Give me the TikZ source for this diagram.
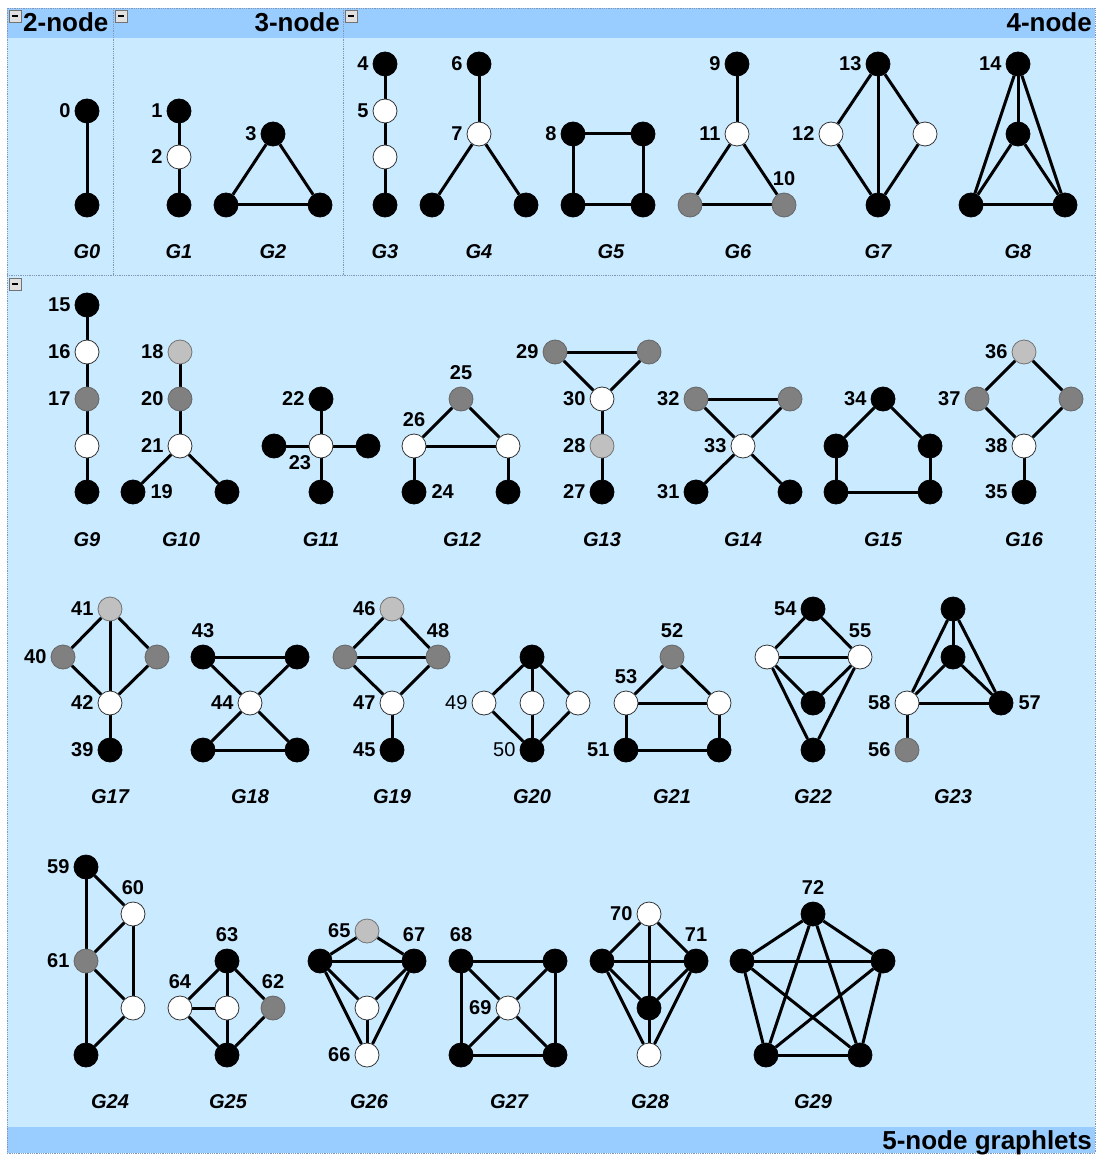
\documentclass[tikz,border=0pt]{standalone}
\usepackage{fontspec}
\setmainfont{Liberation Sans}
\newcommand\lblfont{\fontsize{20}{20}\selectfont\bfseries}
\newcommand\lblreg{\fontsize{20}{20}\selectfont\mdseries}
\newcommand\gfont{\fontsize{20}{20}\selectfont\bfseries\itshape}
\newcommand\hdrfont{\fontsize{26}{26}\selectfont\bfseries}
\definecolor{bodyblue}{RGB}{202,234,255}
\definecolor{headblue}{RGB}{153,204,255}
\definecolor{dotc}{RGB}{130,150,185}
\definecolor{gy}{RGB}{128,128,128}
\definecolor{lg}{RGB}{192,192,192}
\pgfdeclarelayer{background}
\pgfdeclarelayer{edgelayer}
\pgfsetlayers{background,edgelayer,main}
\tikzset{
  vtx/.style={circle, minimum size=24pt, inner sep=0pt, line width=0.8pt},
  bk/.style={vtx, fill=black, draw=black},
  wh/.style={vtx, fill=white, draw=black!80},
  gn/.style={vtx, fill=gy, draw=black!60},
  ln/.style={vtx, fill=lg, draw=black!55},
  lbl/.style={font=\lblfont, inner sep=1pt, text=black},
  every label/.style={lbl},
  lf/.style={label={[label distance=3pt]left:#1}},
  lfr/.style={label={[label distance=3pt,font=\lblreg]left:#1}},
  rt/.style={label={[label distance=4pt]right:#1}},
  ab/.style={label={[label distance=6pt]above:#1}},
  gl/.style={font=\gfont, inner sep=0pt},
  hdr/.style={font=\hdrfont, inner sep=0pt},
  edg/.style={line width=3pt, black},
  dotl/.style={dotc, densely dotted, line width=0.8pt},
  minus/.style={draw=black!55, fill=black!12, line width=0.6pt},
}
\begin{document}
\begin{tikzpicture}[x=1pt,y=-1pt]
\useasboundingbox (0,0) rectangle (1096,1155);
\begin{pgfonlayer}{background}
  \fill[white] (0,0) rectangle (1096,1155);
  \fill[bodyblue] (7,8) rectangle (1095,1153);
  \fill[headblue] (7,8) rectangle (1095,38);
  \fill[headblue] (7,1127) rectangle (1095,1153);
  \draw[dotl] (7,8) rectangle (1095,1153);
  \draw[dotl] (113,8) -- (113,275.5);
  \draw[dotl] (343,8) -- (343,275.5);
  \draw[dotl] (7,275.5) -- (1095,275.5);
  \foreach \mx/\my in {9/10, 115/10, 345/10, 9/278}{
    \draw[minus] (\mx,\my) rectangle ++(12,12);
    \fill[black] (\mx+3,\my+5) rectangle ++(6,2);
  }
\end{pgfonlayer}

% headers
\node[hdr, anchor=base west] (h2) at (23,32) {2-node};
\node[hdr, anchor=base east] (h3) at (340,32) {3-node};
\node[hdr, anchor=base east] (h4) at (1092,32) {4-node};
\node[hdr, anchor=base east] (h5) at (1092,1149) {5-node graphlets};

% ---- row 1 ----
\node[bk,lf=0] (n0) at (87,111) {};
\node[bk] (g0b) at (87,205) {};

\node[bk,lf=1] (n1) at (179,111) {};
\node[wh,lf=2] (n2) at (179,157) {};
\node[bk] (g1c) at (179,205) {};

\node[bk,lf=3] (n3) at (273,134) {};
\node[bk] (g2b) at (226,205) {};
\node[bk] (g2c) at (320,205) {};

\node[bk,lf=4] (n4) at (385,64) {};
\node[wh,lf=5] (n5) at (385,111) {};
\node[wh] (g3c) at (385,157) {};
\node[bk] (g3d) at (385,205) {};

\node[bk,lf=6] (n6) at (479,64) {};
\node[wh,lf=7] (n7) at (479,134) {};
\node[bk] (g4c) at (432,205) {};
\node[bk] (g4d) at (526,205) {};

\node[bk,lf=8] (n8) at (573,134) {};
\node[bk] (g5b) at (643,134) {};
\node[bk] (g5c) at (573,205) {};
\node[bk] (g5d) at (643,205) {};

\node[bk,lf=9] (n9) at (737,64) {};
\node[wh,lf=11] (n11) at (737,134) {};
\node[gn] (g6c) at (690,205) {};
\node[gn,ab=10] (n10) at (784,205) {};

\node[bk,lf=13] (n13) at (878,64) {};
\node[wh,lf=12] (n12) at (831,134) {};
\node[wh] (g7c) at (925,134) {};
\node[bk] (g7d) at (878,205) {};

\node[bk,lf=14] (n14) at (1018,64) {};
\node[bk] (g8b) at (1018,134) {};
\node[bk] (g8c) at (971,205) {};
\node[bk] (g8d) at (1065,205) {};

% ---- row 2 ----
\node[bk,lf=15] (n15) at (87,305) {};
\node[wh,lf=16] (n16) at (87,352) {};
\node[gn,lf=17] (n17) at (87,399) {};
\node[wh] (g9d) at (87,446) {};
\node[bk] (g9e) at (87,492) {};

\node[ln,lf=18] (n18) at (180,352) {};
\node[gn,lf=20] (n20) at (180,399) {};
\node[wh,lf=21] (n21) at (180,446) {};
\node[bk,rt=19] (n19) at (133,492) {};
\node[bk] (g10e) at (227,492) {};

\node[bk,lf=22] (n22) at (321,399) {};
\node[wh,label={[label distance=0pt]below left:23}] (n23) at (321,446) {};
\node[bk] (g11c) at (274,446) {};
\node[bk] (g11d) at (368,446) {};
\node[bk] (g11e) at (321,492) {};

\node[gn,ab=25] (n25) at (461,399) {};
\node[wh,ab=26] (n26) at (414,446) {};
\node[wh] (g12c) at (508,446) {};
\node[bk,rt=24] (n24) at (414,492) {};
\node[bk] (g12e) at (508,492) {};

\node[gn,lf=29] (n29) at (555,352) {};
\node[gn] (g13b) at (649,352) {};
\node[wh,lf=30] (n30) at (602,399) {};
\node[ln,lf=28] (n28) at (602,446) {};
\node[bk,lf=27] (n27) at (602,492) {};

\node[gn,lf=32] (n32) at (696,399) {};
\node[gn] (g14b) at (790,399) {};
\node[wh,lf=33] (n33) at (743,446) {};
\node[bk,lf=31] (n31) at (696,492) {};
\node[bk] (g14e) at (790,492) {};

\node[bk,lf=34] (n34) at (883,399) {};
\node[bk] (g15b) at (836,446) {};
\node[bk] (g15c) at (930,446) {};
\node[bk] (g15d) at (836,492) {};
\node[bk] (g15e) at (930,492) {};

\node[ln,lf=36] (n36) at (1024,352) {};
\node[gn,lf=37] (n37) at (977,399) {};
\node[gn] (g16c) at (1071,399) {};
\node[wh,lf=38] (n38) at (1024,446) {};
\node[bk,lf=35] (n35) at (1024,492) {};

% ---- row 3 ----
\node[ln,lf=41] (n41) at (110,609) {};
\node[gn,lf=40] (n40) at (63,657) {};
\node[gn] (g17c) at (157,657) {};
\node[wh,lf=42] (n42) at (110,703) {};
\node[bk,lf=39] (n39) at (110,750) {};

\node[bk,ab=43] (n43) at (203,657) {};
\node[bk] (g18b) at (297,657) {};
\node[wh,lf=44] (n44) at (250,703) {};
\node[bk] (g18d) at (203,750) {};
\node[bk] (g18e) at (297,750) {};

\node[ln,lf=46] (n46) at (392,609) {};
\node[gn] (g19b) at (345,657) {};
\node[gn,ab=48] (n48) at (438,657) {};
\node[wh,lf=47] (n47) at (392,703) {};
\node[bk,lf=45] (n45) at (392,750) {};

\node[bk] (g20a) at (532,657) {};
\node[wh,lfr=49] (n49) at (484,703) {};
\node[wh] (g20c) at (532,703) {};
\node[wh] (g20d) at (578,703) {};
\node[bk,lfr=50] (n50) at (532,750) {};

\node[gn,ab=52] (n52) at (672,657) {};
\node[wh,ab=53] (n53) at (626,703) {};
\node[wh] (g21c) at (719,703) {};
\node[bk,lf=51] (n51) at (626,750) {};
\node[bk] (g21e) at (719,750) {};

\node[bk,lf=54] (n54) at (813,609) {};
\node[wh] (g22b) at (767,657) {};
\node[wh,ab=55] (n55) at (860,657) {};
\node[bk] (g22d) at (813,703) {};
\node[bk] (g22e) at (813,750) {};

\node[bk] (g23a) at (953,609) {};
\node[bk] (g23b) at (953,657) {};
\node[wh,lf=58] (n58) at (907,703) {};
\node[bk,rt=57] (n57) at (1001,703) {};
\node[gn,lf=56] (n56) at (907,750) {};

% ---- row 4 ----
\node[bk,lf=59] (n59) at (86,867) {};
\node[wh,ab=60] (n60) at (133,914) {};
\node[gn,lf=61] (n61) at (86,961) {};
\node[wh] (g24d) at (133,1008) {};
\node[bk] (g24e) at (86,1055) {};

\node[bk,ab=63] (n63) at (227,961) {};
\node[wh,ab=64] (n64) at (180,1008) {};
\node[wh] (g25c) at (227,1008) {};
\node[gn,ab=62] (n62) at (273,1008) {};
\node[bk] (g25e) at (227,1055) {};

\node[ln,lf=65] (n65) at (367,931) {};
\node[bk] (g26b) at (320,961) {};
\node[bk,ab=67] (n67) at (414,961) {};
\node[wh] (g26d) at (367,1008) {};
\node[wh,lf=66] (n66) at (367,1055) {};

\node[bk,ab=68] (n68) at (461,961) {};
\node[bk] (g27b) at (555,961) {};
\node[wh,lf=69] (n69) at (508,1008) {};
\node[bk] (g27d) at (461,1055) {};
\node[bk] (g27e) at (555,1055) {};

\node[wh,lf=70] (n70) at (649,914) {};
\node[bk] (g28b) at (602,961) {};
\node[bk,ab=71] (n71) at (696,961) {};
\node[bk] (g28d) at (649,1008) {};
\node[wh] (g28e) at (649,1055) {};

\node[bk,ab=72] (n72) at (813,914) {};
\node[bk] (g29b) at (742,961) {};
\node[bk] (g29c) at (883,961) {};
\node[bk] (g29d) at (766,1055) {};
\node[bk] (g29e) at (860,1055) {};

% graph names
\foreach \gx/\gy/\gt in {87/252/0, 179/252/1, 273/252/2, 385/252/3, 479/252/4, 611/252/5, 738/252/6, 878/252/7, 1018/252/8,
  87/540/9, 181/540/10, 321/540/11, 462/540/12, 602/540/13, 743/540/14, 883/540/15, 1024/540/16,
  110/797/17, 250/797/18, 392/797/19, 532/797/20, 672/797/21, 813/797/22, 953/797/23,
  110/1102/24, 228/1102/25, 369/1102/26, 509/1102/27, 650/1102/28, 813/1102/29}{
  \node[gl] (G\gt) at (\gx,\gy) {G\gt};
}

% edges
\begin{pgfonlayer}{edgelayer}
\foreach \a/\b in {
  n0/g0b, n1/n2, n2/g1c, n3/g2b, n3/g2c, g2b/g2c,
  n4/n5, n5/g3c, g3c/g3d, n6/n7, n7/g4c, n7/g4d,
  n8/g5b, n8/g5c, g5b/g5d, g5c/g5d,
  n9/n11, n11/g6c, n11/n10, g6c/n10,
  n13/n12, n13/g7c, n13/g7d, n12/g7d, g7c/g7d,
  n14/g8b, n14/g8c, n14/g8d, g8b/g8c, g8b/g8d, g8c/g8d,
  n15/n16, n16/n17, n17/g9d, g9d/g9e,
  n18/n20, n20/n21, n21/n19, n21/g10e,
  n23/n22, n23/g11c, n23/g11d, n23/g11e,
  n25/n26, n25/g12c, n26/g12c, n26/n24, g12c/g12e,
  n29/g13b, n29/n30, g13b/n30, n30/n28, n28/n27,
  n32/g14b, n32/n33, g14b/n33, n33/n31, n33/g14e,
  n34/g15b, n34/g15c, g15b/g15d, g15c/g15e, g15d/g15e,
  n36/n37, n36/g16c, n37/n38, g16c/n38, n38/n35,
  n41/n40, n41/g17c, n41/n42, n40/n42, g17c/n42, n42/n39,
  n43/g18b, n43/n44, g18b/n44, n44/g18d, n44/g18e, g18d/g18e,
  n46/g19b, n46/n48, g19b/n48, g19b/n47, n48/n47, n47/n45,
  g20a/n49, g20a/g20c, g20a/g20d, n49/n50, g20c/n50, g20d/n50,
  n52/n53, n52/g21c, n53/g21c, n53/n51, g21c/g21e, n51/g21e,
  n54/g22b, n54/n55, g22b/n55, g22b/g22d, g22b/g22e, n55/g22d, n55/g22e,
  g23a/g23b, g23a/n58, g23a/n57, g23b/n58, g23b/n57, n58/n57, n58/n56,
  n59/n60, n59/n61, n60/n61, n60/g24d, n61/g24d, n61/g24e, g24d/g24e,
  n63/n64, n63/g25c, n63/n62, n64/g25c, n64/g25e, g25c/g25e, n62/g25e,
  n65/g26b, n65/n67, g26b/n67, g26b/g26d, g26b/n66, n67/g26d, n67/n66, g26d/n66,
  n68/g27b, n68/g27d, g27b/g27e, g27d/g27e, n69/n68, n69/g27b, n69/g27d, n69/g27e,
  n70/g28b, n70/n71, n70/g28d, g28b/n71, g28b/g28d, g28b/g28e, n71/g28d, n71/g28e, g28d/g28e,
  n72/g29b, n72/g29c, n72/g29d, n72/g29e, g29b/g29c, g29b/g29d, g29b/g29e, g29c/g29d, g29c/g29e, g29d/g29e}{
  \draw[edg] (\a) -- (\b);
}
\end{pgfonlayer}
\end{tikzpicture}
\end{document}
